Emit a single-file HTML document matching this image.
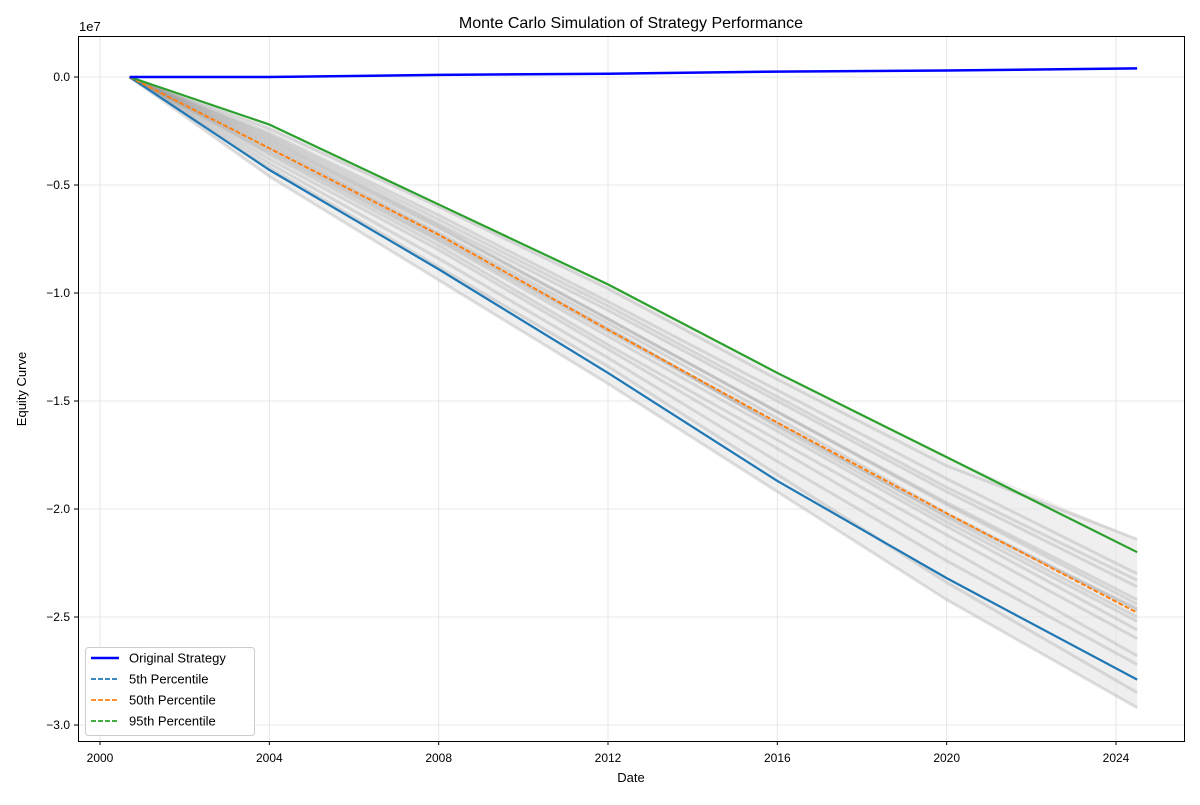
<!DOCTYPE html>
<html><head><meta charset="utf-8">
<style>
body{margin:0;background:#fff;font-family:"Liberation Sans",sans-serif;}
svg text{font-family:"Liberation Sans",sans-serif;fill:#000;}
</style></head>
<body>
<svg id="chart" width="1200" height="800" xmlns="http://www.w3.org/2000/svg">
<rect width="1200" height="800" fill="#fff"/>
<g id="grid"></g>
<g id="marks"></g>
<rect x="78.5" y="36.5" width="1106" height="705" fill="none" stroke="#000" stroke-width="1"/>
<g id="axes"></g>
<text x="631" y="28" font-size="16" text-anchor="middle">Monte Carlo Simulation of Strategy Performance</text>
<text x="631" y="782" font-size="13" text-anchor="middle">Date</text>
<text x="26" y="389" font-size="13" text-anchor="middle" transform="rotate(-90 26 389)">Equity Curve</text>
<text x="79" y="31" font-size="13">1e7</text>
<g id="legend">
<rect x="85.5" y="647.5" width="169" height="88" rx="3" fill="#fff" fill-opacity="0.85" stroke="#ccc"/>
</g>
</svg>
<script>
const years=[2000.7,2004,2008,2012,2016,2020,2024.5];
const original=[0,0.0,0.01,0.015,0.025,0.03,0.04];
const p5=[0,-0.43,-0.89,-1.37,-1.87,-2.32,-2.79];
const p50=[0,-0.33,-0.73,-1.17,-1.60,-2.02,-2.48];
const p95=[0,-0.22,-0.59,-0.96,-1.37,-1.76,-2.20];
const sims=[
[0,-0.30,-0.70,-1.12,-1.55,-1.97,-2.42],
[0,-0.36,-0.78,-1.24,-1.68,-2.12,-2.60],
[0,-0.26,-0.64,-1.04,-1.45,-1.86,-2.30],
[0,-0.40,-0.84,-1.30,-1.78,-2.24,-2.72],
[0,-0.33,-0.74,-1.17,-1.60,-2.04,-2.50],
[0,-0.28,-0.68,-1.08,-1.50,-1.92,-2.36],
[0,-0.38,-0.80,-1.26,-1.72,-2.18,-2.68],
[0,-0.31,-0.72,-1.14,-1.58,-2.02,-2.47],
[0,-0.46,-0.94,-1.42,-1.92,-2.42,-2.92],
[0,-0.24,-0.60,-0.98,-1.40,-1.80,-2.14],
[0,-0.35,-0.76,-1.20,-1.64,-2.08,-2.56],
[0,-0.29,-0.69,-1.12,-1.55,-1.98,-2.44],
[0,-0.32,-0.73,-1.16,-1.62,-2.06,-2.52],
[0,-0.34,-0.75,-1.18,-1.61,-2.03,-2.46],
[0,-0.27,-0.66,-1.06,-1.48,-1.90,-2.33],
[0,-0.42,-0.88,-1.34,-1.84,-2.34,-2.85]];
const xTicks=[2000,2004,2008,2012,2016,2020,2024];
const yTicks=[0,-0.5,-1.0,-1.5,-2.0,-2.5,-3.0];
const yTickLabels=["0.0","\u22120.5","\u22121.0","\u22121.5","\u22122.0","\u22122.5","\u22123.0"];
const legendLabels=["Original Strategy","5th Percentile","50th Percentile","95th Percentile"];

const X=y=>100+(y-2000)*(1116-100)/24;
const Y=v=>77-v*216;
const NS="http://www.w3.org/2000/svg";
function mk(t,a,p){const e=document.createElementNS(NS,t);for(const k in a)e.setAttribute(k,a[k]);p.appendChild(e);return e;}
const grid=document.getElementById('grid'),marks=document.getElementById('marks'),axes=document.getElementById('axes'),leg=document.getElementById('legend');
xTicks.forEach(t=>{const x=X(t);
 const g=mk('line',{x1:x,x2:x,y1:36,y2:741,stroke:'#e0e0e0','stroke-width':0.8},grid);
 
 
 const tk=mk('line',{x1:x,x2:x,y1:741,y2:745,stroke:'#000'},axes);
 
 
 const l=mk('text',{x:x,y:762,'font-size':12,'text-anchor':'middle'},axes);l.textContent=t;
 
 });
yTicks.forEach((t,i)=>{const y=Y(t);
 const g=mk('line',{x1:79,x2:1185,y1:y,y2:y,stroke:'#e0e0e0','stroke-width':0.8},grid);
 
 
 const tk=mk('line',{x1:74,x2:79,y1:y,y2:y,stroke:'#000'},axes);
 
 
 const l=mk('text',{x:70,y:y+4,'font-size':12,'text-anchor':'end'},axes);l.textContent=yTickLabels[i];
 
 });
const pts=arr=>arr.map((v,i)=>X(years[i])+','+Y(v)).join(' ');
const minS=years.map((_,i)=>Math.min(p5[i],...sims.map(s=>s[i])));
const maxS=years.map((_,i)=>Math.max(p95[i],...sims.map(s=>s[i])));
const band=mk('polygon',{points:pts(maxS)+' '+minS.map((v,i)=>X(years[i])+','+Y(v)).reverse().join(' '),fill:'#e4e4e4','fill-opacity':0.6},marks);


sims.forEach(s=>{const l=mk('polyline',{points:pts(s),fill:'none',stroke:'#999','stroke-opacity':0.3,'stroke-width':3},marks);
 
 });
const series=[[original,'#0000ff',2.5,'original-strategy-line'],[p5,'#1f77b4',2.2,'p5-line'],[p50,'#ff7f0e',2,'p50-line'],[p95,'#2ca02c',2.2,'p95-line']];
[series[1],series[2],series[3],series[0]].forEach(s=>{const l=mk('polyline',{points:pts(s[0]),fill:'none',stroke:s[1],'stroke-width':s[2],'stroke-dasharray':(s[1]=='#ff7f0e')?'5,2':'none'},marks);
 
 });
legendLabels.forEach((lab,i)=>{const y=658+i*21;
 const l=mk('line',{x1:91,x2:119,y1:y,y2:y,stroke:series[i][1],'stroke-width':i==0?2.5:1.8,'stroke-dasharray':i==0?'none':'5,2'},leg);
 
 
 const t=mk('text',{x:129,y:y+4.5,'font-size':13},leg);t.textContent=lab;
 
 });
</script>
</body></html>
